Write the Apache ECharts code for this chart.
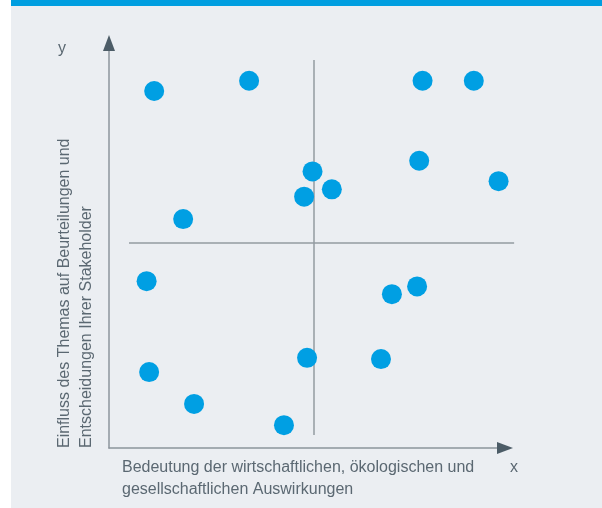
<!DOCTYPE html>
<html>
<head>
<meta charset="utf-8">
<script src="https://cdn.jsdelivr.net/npm/echarts@6/dist/echarts.min.js"></script>
<style>
  html, body { margin: 0; padding: 0; background: #fff; }
  #panel { position: absolute; left: 11px; top: 0; width: 591px; height: 502px; background: #ebeef2; border-top: 6px solid #009ee0; }
  #chart { position: absolute; left: 0; top: 0; width: 602px; height: 508px; }
</style>
</head>
<body>
<div id="panel"></div>
<div id="chart"></div>
<script>
// Wesentlichkeitsmatrix: x = Bedeutung der Auswirkungen, y = Einfluss auf Stakeholder (0..100)
const topicX = [12.9, 35.5, 76.8, 89.0, 50.6, 76.0, 55.2, 48.6, 94.9, 19.8, 11.1, 69.5, 75.5, 49.3, 66.9, 11.7, 22.4, 43.8];
const topicY = [87.5, 90.0, 90.0, 90.0, 67.8, 70.4, 63.4, 61.6, 65.4, 56.1, 40.9, 37.7, 39.6, 22.1, 21.8, 18.6, 10.8, 5.6];

// Quadrant dividers
const dividerX = 50.8, dividerXFrom = 3.2, dividerXTo = 95.1;
const dividerY = 50.2, dividerYFrom = 6.9, dividerYTo = 98.6;

const xTitle = 'Bedeutung der wirtschaftlichen, ökologischen und\ngesellschaftlichen Auswirkungen';
const yTitle = 'Einfluss des Themas auf Beurteilungen und\nEntscheidungen Ihrer Stakeholder';

let chart = echarts.init(document.getElementById('chart'));

const font = '16px "Liberation Sans", Arial, sans-serif';
const textColor = '#5b6872';

const plainAxis = (gridIndex, line) => ({
  gridIndex: gridIndex,
  type: 'value',
  min: 0,
  max: 100,
  axisLine: line,
  axisTick: {show: false},
  axisLabel: {show: false},
  splitLine: {show: false}
});

const grayLine = {show: true, onZero: false, lineStyle: {color: '#8c959c', width: 1.5}};
const arrowOnly = {
  show: true, onZero: false,
  symbol: ['none', 'triangle'], symbolSize: [12, 16],
  lineStyle: {color: '#4c5c67', width: 0}
};

const points = topicX.map((x, i) => [x, topicY[i]]);

const option = {
  animation: false,
  backgroundColor: 'transparent',
  grid: [
    {left: 109, right: 97, top: 43, bottom: 60},
    {left: 109, right: 97, top: 43, bottom: 60},
    {left: 100, right: 82, top: 40, bottom: 60}
  ],
  xAxis: [
    plainAxis(0, grayLine),
    plainAxis(1, arrowOnly),
    Object.assign(plainAxis(2, {show: false}), {show: false})
  ],
  yAxis: [
    plainAxis(0, grayLine),
    plainAxis(1, arrowOnly),
    Object.assign(plainAxis(2, {show: false}), {show: false})
  ],
  graphic: [
    {
      type: 'text', x: 122, y: 457,
      style: {text: xTitle, font: font, fill: textColor, lineHeight: 22, textAlign: 'left', textVerticalAlign: 'top'}
    },
    {
      type: 'text', x: 54, y: 448, rotation: Math.PI / 2,
      style: {text: yTitle, font: font, fill: textColor, lineHeight: 22, textAlign: 'left', textVerticalAlign: 'top'}
    },
    {
      type: 'text', x: 510, y: 467.5,
      style: {text: 'x', font: font, fill: textColor, textAlign: 'left', textVerticalAlign: 'middle'}
    },
    {
      type: 'text', x: 58, y: 48.5,
      style: {text: 'y', font: font, fill: textColor, textAlign: 'left', textVerticalAlign: 'middle'}
    }
  ],
  series: [
    {
      type: 'scatter',
      xAxisIndex: 2,
      yAxisIndex: 2,
      clip: false,
      z: 3,
      symbolSize: 20,
      itemStyle: {color: '#009fe3', opacity: 1},
      data: points,
      markLine: {
        silent: true,
        z: 1,
        symbol: ['none', 'none'],
        label: {show: false},
        lineStyle: {color: '#939ba1', width: 1.5, type: 'solid'},
        data: [
          [{coord: [dividerX, dividerXFrom]}, {coord: [dividerX, dividerXTo]}],
          [{coord: [dividerYFrom, dividerY]}, {coord: [dividerYTo, dividerY]}]
        ]
      }
    }
  ]
};

chart.setOption(option);
</script>
</body>
</html>
